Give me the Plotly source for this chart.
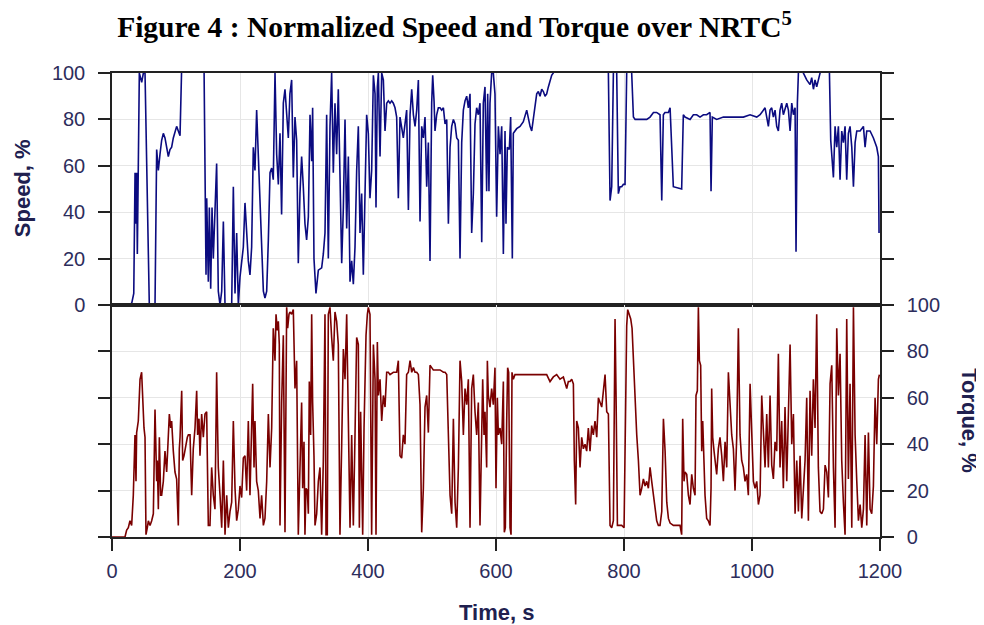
import plotly.graph_objects as go
from plotly.subplots import make_subplots

# ---- data ----
speed_time = [0,28,31,34,36,37.5,38.5,39.6,42.7,46.4,49,51.6,58.3,67.2,69.8,72.4,75,77.6,80.2,82.8,85.4,88,90.6,93.2,95.8,98.4,101,103.6,106.3,108.9,
 143.8,146.9,148,150.5,152.1,154.2,156.3,158.3,161,163.5,166.1,168.8,171.4,174,176.6,187,189.6,192.2,194.8,197.4,200,205.2,207.8,210.4,213,215.6,218.2,220.8,223.4,226,228.6,231.3,233.9,236.5,239,241.7,244.3,246.9,249.5,252,254.7,257.3,259.9,262.5,265,267.7,270.3,273,275.5,
 278,280.7,283.3,285.9,288.5,291.1,293.7,296.3,298.9,301.5,304.1,306.8,309.4,312,313.5,315.6,318.7,322.4,327.6,330.2,332.8,335.4,338,340.6,343.2,345.8,348.4,351,353.6,356.2,358.9,361.5,364.1,366.7,369.3,371.9,374.5,377.1,379.7,382.3,384.9,387.5,390.1,392.7,395.3,397.9,400.5,403.1,405.7,408.4,411,412.5,414.6,416.2,418.8,421.4,424,426.6,429.2,431.8,434.4,437,439.6,442.2,444.8,447.4,450,452.6,455.2,457.8,460.4,463.1,465.7,468.3,470.9,473.5,476.1,478.7,481.3,483.9,486.5,489.1,491.7,494.3,496.9,499.5,501.1,503.2,504.7,507.3,509.9,512.5,515.1,517.8,520.4,523,525.6,528.2,530.8,533.4,536,538.6,541.2,543.8,546.4,549,551.6,554.2,556.8,559.4,562,564.6,567.2,569.8,572.4,575,
 577.7,580.2,582.8,585.4,587,589,590.6,593.2,595.8,598.4,601,603.7,606.3,608.9,611.5,614.1,615.6,617.7,620.8,622.9,625.5,627.1,629.7,632.3,637.5,642.7,648,650.5,653.2,655.8,658.4,661,663.6,666.2,668.8,671.4,674,676.6,679.2,681.8,684.4,687,689.6,692.2,774,775.6,778.2,780.8,783.4,786,788.6,791.2,793.8,796.4,799,801.6,804.2,806.8,812,814.7,817.3,819.9,825,830.3,835.5,840.7,846,851,856.3,859,861.5,864,869.4,
 872,877.1,890.1,892.7,895.3,903.2,908.4,913.6,918.8,924,929.2,934.4,936,938,944.8,955.3,965.7,976.1,986.5,997,1007.4,1012.6,1017.8,1020.4,1023,1025.6,1028.2,1030.8,1033.4,1036,1038.6,1041.2,1043.8,1046.4,1049,1051.6,1054.3,1056.9,1059.5,1062.1,1064.7,1067.3,1068.8,1070.9,1072.5,1075,1080.3,1082.9,1085.5,1090.7,1093.3,1096,1098.5,1101.1,1103.7,1106.3,1109,1119.4,1121,1123,1124.6,1127.2,1129.8,1132.4,1135,1137.6,1140.2,1142.8,1145.4,1148,1150.6,1153.2,1155.9,1158.5,1161.1,1163.7,1168.9,1174.1,1176.7,1179.3,1184.5,1189.7,1194.9,1197.5,1198.5]
speed_pct = [0,0,1,5,57,35,57,22,100,96,100,100,0,0,67,58,65,71,74,72,68,64,67,68,72,75,77,75,73,103,
 103,13,46,10,42,7,42,20,44,61,6,0,6,36,0,0,51,5,31,0,12,25,44,31,19,13,25,68,58,84,64,41,25,6,3,6,28,57,59,54,100,65,52,74,39,87,93,82,72,
 91,97,55,81,71,18,48,64,51,35,28,38,82,62,85,20,5,15,16,22,31,82,20,77,100,57,87,65,93,58,18,42,80,33,64,10,19,9,25,58,77,31,48,13,55,82,74,46,58,99,91,42,94,100,64,100,97,75,87,88,87,88,87,85,81,46,81,77,72,78,84,41,82,93,82,77,84,97,36,77,72,81,51,70,19,87,99,88,75,82,85,85,84,85,78,80,35,68,77,80,78,72,71,20,70,84,88,90,85,91,31,48,78,85,82,87,
 27,87,94,49,91,49,87,100,100,91,38,77,65,77,22,75,35,68,67,81,20,74,75,76,77,79,84,80,77,75,81,85,91,92,90,93,92,90,91,94,97,99,100,103,103,100,45,51,100,103,100,48,51,51,52,52,100,103,100,81,80,80,80,80,80,81,83,83,82,45,82,83,83,
 85,51,50,82,81,80,82,82,81,82,82,83,49,81,80,81,81,81,81,82,81,82,84,85,81,77,84,85,81,84,77,75,84,87,82,85,87,84,75,87,82,85,23,87,100,103,100,98,97,95,98,93,97,94,97,100,103,103,100,71,65,55,77,68,77,54,75,70,77,54,74,77,68,51,70,75,75,77,68,75,75,72,68,64,31]

torque_time = [0,20.3,22.9,25.5,28.1,30.7,33.3,35.9,37.5,38.5,41.1,43.8,46.3,47.9,50,51.6,53.1,55.2,56.8,59.4,62,64.6,67.2,69.8,70.8,72.4,74,76,77.6,80.2,82.8,85.4,88,89.6,91.7,93.2,95.8,98.4,101,103.6,105.2,106.3,108.9,110.4,112.5,115.6,117.7,119.3,121.9,124.5,127,129.7,132.3,133.8,135.9,137.5,140.1,142.7,145.3,147.9,150.5,153.1,155.7,158.3,160.9,163.5,166.1,168.8,171.4,174,176.6,179.2,181.8,184.4,187,189.6,192.2,194.8,197.4,200,202.6,205.2,207.8,210.4,213,215.6,218.2,219.8,221.9,223.4,226,228.6,231.3,233.8,236.5,239,241.7,244.3,246.9,249.5,252,254.7,256.3,258.3,259.9,261.4,262.5,265.1,267.7,270.3,272.9,274.5,276.6,
 278,280.7,283.3,285.9,288.5,291.1,293.7,296.3,297.9,300,301.5,303.1,305.2,306.8,308.3,310.4,312,313.5,315.6,317.2,319.8,322.4,325,327.6,330.2,332.8,334.4,336.4,338,340.6,343.2,345.8,348.4,351,353.6,356.2,358.9,361.5,364.1,366.7,369.3,371.9,374.5,377.1,379.7,382.3,384.9,386.5,388.5,390.1,391.7,393.8,395.3,396.9,399,400.5,403.1,404.2,405.7,408.4,411,412.5,414.6,416.2,418.8,421.4,424,426.6,429.2,431.8,434.4,439.6,444.8,447.4,450,452.6,455.2,457.8,460.4,463.1,465.7,468.3,470.9,473.5,476.1,478.7,481.3,483.9,486.5,489.1,491.7,494.3,496.9,499.5,502.1,507.3,512.5,517.8,520.4,523,525.6,528.2,530.8,533.4,536,538.6,541.2,543.8,546.4,549,551.6,554.2,556.8,559.4,562,564.6,567.2,569.8,572.4,575,
 579.2,581.3,582.8,585.4,586.5,588,590.6,593.2,595.8,598.4,600,602.1,603.7,606.3,608.9,611.5,613,614.6,616.7,618.2,619.8,621.9,623.5,625,627.1,629.7,637.5,648,658.4,668.8,679.2,684.4,689.6,694.8,700,705.3,710.5,713,715.7,718.3,720.9,722.4,724.5,726.1,728.7,731.3,733.9,736.5,739.1,741.7,744.3,746.9,749.5,752.1,754.7,757.4,760,762.6,765.2,767.8,770.4,773,775.6,778.2,780.8,783.4,786,787.6,789.7,792.8,796.4,800.1,802.2,804.2,805.8,808.4,810.5,812.6,814.7,817.3,819.9,822.5,825.1,827.7,830.3,832.9,835.5,838.1,840.7,843.3,846,848.5,851.1,853.7,856.3,859,861.6,864.2,866.8,869.4,872,877.2,
 882.3,887.5,890.1,891.7,893.8,895.3,898,900.6,903.2,905.8,908.4,911,912.5,914.6,916.2,917.8,919.8,921.4,923,925,926.6,929.2,931.8,934.4,936,937,938.6,940.7,942.2,944.8,947.4,950,952.7,955.3,957.9,960.5,963.1,965.7,968.3,970.9,973.5,976.1,978.7,981.3,983.9,986.5,989.1,991.7,994.3,997,999.5,1002.2,1004.8,1007.4,1010,1012.6,1015.2,1017.8,1020.4,1023,1025.6,1028.2,1030.8,1033.4,1036,1038.6,1041.2,1043.8,1046.4,1049,1051.6,1054.3,1056.9,1059.5,1062.1,1064.7,1067.3,1069.9,1072.5,1075.1,1077.7,1080.3,1082.9,1085.5,1088.1,1090.7,1093.3,1095.9,1098.5,1101.1,1103.7,1106.3,1109,1111.6,1114.2,1116.8,1119.4,1122,1124.6,1127.2,1129.8,1132.4,1135,1137.6,1140.2,1142.8,1145.4,1148,1150.6,1153.2,1155.9,1158.5,1161.1,1163.7,1166.3,1168.9,1171.5,1174.1,1176.7,1179.3,1181.9,1184.5,1187.1,1189.7,1192.3,1194.9,1197.5,1199]
torque_pct = [0,0,3,4,7,5,18,44,24,45,50,68,71,57,47,43,1,4,7,5,7,10,55,24,33,12,43,18,18,24,37,28,47,53,47,50,37,28,25,5,38,43,63,33,35,40,43,44,44,18,38,47,63,44,51,35,53,43,53,54,5,5,30,18,12,71,30,18,4,33,1,18,4,11,15,50,21,7,12,22,17,34,35,20,50,18,43,66,30,50,24,20,8,18,5,8,24,53,30,47,90,76,96,89,93,83,5,58,87,2,99,90,96,
 97,96,98,64,76,1,33,58,21,41,1,21,20,10,67,44,96,58,35,5,10,24,30,1,33,96,1,1,96,99,86,76,97,93,83,1,40,81,68,96,50,4,44,5,44,86,83,4,54,33,1,47,76,87,96,99,96,54,1,83,68,1,84,61,68,50,61,56,71,71,70,71,71,76,35,34,44,40,70,71,76,71,73,71,71,70,57,2,21,56,61,45,74,73,72,72,72,71,71,70,47,18,10,51,15,4,30,76,67,44,64,57,68,4,64,70,54,44,58,5,
 68,44,54,30,76,61,56,64,57,73,21,60,44,47,40,67,2,4,50,73,71,4,1,71,68,70,70,70,70,70,70,67,69,70,68,69,64,67,67,68,66,33,14,50,47,30,43,38,40,37,47,37,48,44,50,43,60,58,56,63,70,54,53,5,4,7,94,61,5,5,5,4,47,91,98,96,94,90,76,54,44,33,18,21,25,22,24,21,30,24,18,11,7,5,5,11,51,37,15,8,6,5,
 5,5,1,51,24,28,27,18,14,27,21,18,61,63,99,76,74,37,50,35,18,8,7,5,21,64,43,37,33,27,38,43,35,24,41,30,71,54,44,38,20,43,90,44,33,30,24,27,18,66,40,24,21,24,14,18,61,44,30,53,30,61,31,25,41,37,79,30,50,21,56,24,50,83,40,53,10,33,11,35,8,22,33,60,7,63,35,68,47,96,30,11,10,12,31,28,17,66,74,30,4,90,61,79,33,15,1,94,25,66,4,99,44,24,7,14,4,12,44,5,45,12,10,22,60,40,68,70]

time_ticks = [0, 200, 400, 600, 800, 1000, 1200]
pct_ticks = [0, 20, 40, 60, 80, 100]

SPEED_COLOR = "#0b0b80"
TORQUE_COLOR = "#7a0000"
AXIS_COLOR = "#222222"
GRID_COLOR = "#e6e6e6"
TITLE_COLOR = "#20204f"
TICK_COLOR = "#2d2d5c"

fig = make_subplots(rows=2, cols=1, shared_xaxes=True, vertical_spacing=0)

fig.add_trace(go.Scatter(x=speed_time, y=speed_pct, mode="lines",
                         line=dict(color=SPEED_COLOR, width=1.6), showlegend=False), row=1, col=1)
fig.add_trace(go.Scatter(x=torque_time, y=torque_pct, mode="lines",
                         line=dict(color=TORQUE_COLOR, width=1.6), showlegend=False), row=2, col=1)

tick_font = dict(family="Liberation Sans, Arial, sans-serif", size=20, color=TICK_COLOR)

common_x = dict(range=[0, 1200], tickvals=time_ticks, showgrid=True, gridcolor=GRID_COLOR,
                gridwidth=1, showline=True, linecolor=AXIS_COLOR, linewidth=1.5, mirror=True,
                zeroline=False, tickfont=tick_font)
fig.update_xaxes(**common_x, ticks="", showticklabels=False, row=1, col=1)
fig.update_xaxes(**common_x, ticks="outside", ticklen=12, tickcolor=AXIS_COLOR, tickwidth=1.5,
                 ticklabelstandoff=3, showticklabels=True, row=2, col=1)

common_y = dict(range=[0, 100], tickvals=pct_ticks, showgrid=True, gridcolor=GRID_COLOR,
                showline=True, linecolor=AXIS_COLOR, linewidth=1.5, mirror="ticks",
                ticks="outside", ticklen=12, tickcolor=AXIS_COLOR, tickwidth=1.5,
                ticklabelstandoff=9, zeroline=False, tickfont=tick_font)
fig.update_yaxes(**common_y, side="left", row=1, col=1)
fig.update_yaxes(**common_y, side="right", row=2, col=1)

title_font = dict(family="Liberation Sans, Arial, sans-serif", size=22, color=TITLE_COLOR)
fig.add_annotation(text="<b>Speed, %</b>", textangle=-90, xref="paper", yref="paper",
                   x=-0.117, y=0.752, xanchor="center", yanchor="middle",
                   showarrow=False, font=title_font)
fig.add_annotation(text="<b>Torque, %</b>", textangle=90, xref="paper", yref="paper",
                   x=1.117, y=0.25, xanchor="center", yanchor="middle",
                   showarrow=False, font=title_font)
fig.add_annotation(text="<b>Time, s</b>", xref="paper", yref="paper",
                   x=0.501, y=-0.162, xanchor="center", yanchor="middle",
                   showarrow=False, font=title_font)

# the page body has an 8px margin, so the figure is sized to fit the 984x625 window
fig.update_layout(
    width=976, height=617,
    margin=dict(l=104, r=104, t=65, b=88, autoexpand=False),
    paper_bgcolor="white", plot_bgcolor="white",
    title=dict(text="<b>Figure 4 : Normalized Speed and Torque over NRTC<sup>5</sup></b>",
               x=0.4575, xanchor="center", y=0.9692, yanchor="middle", yref="container",
               font=dict(family="Liberation Serif, Times New Roman, serif", size=29.5, color="black")),
)

fig.write_html("out.html")
